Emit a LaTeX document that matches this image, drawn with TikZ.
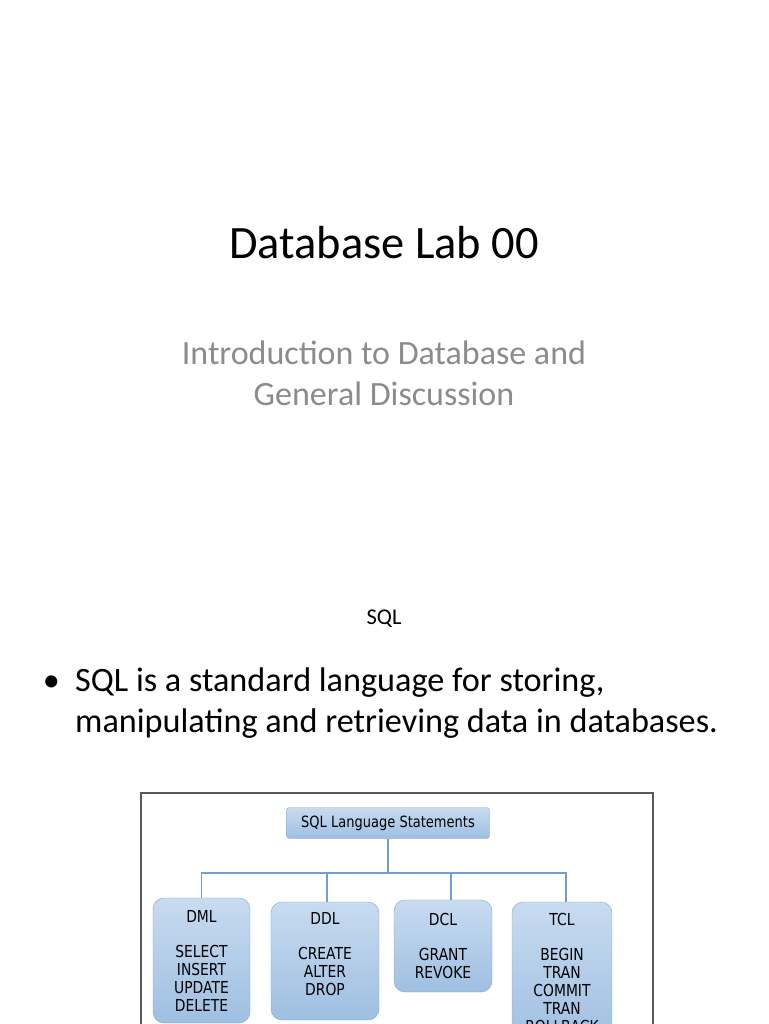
\documentclass[tikz,border=0pt]{standalone}
\usepackage{fontspec}
\setmainfont{Carlito}
\newfontfamily\boxfont[FakeStretch=0.84]{DejaVu Sans}

\definecolor{subgray}{HTML}{8C8C8C}
\definecolor{boxtop}{HTML}{C8DBF0}
\definecolor{boxbottom}{HTML}{9FBFE1}
\definecolor{boxline}{HTML}{82A6CE}
\definecolor{linkblue}{HTML}{759FCB}
\definecolor{framegray}{HTML}{5A5A5A}

\tikzstyle{slidetitle}=[font=\fontsize{46.4}{54}\selectfont,
                                    text=black]
\tikzstyle{subtitle}=[font=\fontsize{34}{41}\selectfont,
                                    text=subgray,
                                    align=center]
\tikzstyle{bodytext}=[font=\fontsize{34.2}{41}\selectfont,
                                    anchor=base west,
                                    inner sep=0pt]
\tikzstyle{root}=[rectangle,
                                    rounded corners=3pt,
                                    draw=boxline,
                                    top color=boxtop,
                                    bottom color=boxbottom,
                                    minimum width=203pt,
                                    minimum height=31pt,
                                    font=\boxfont\fontsize{15.5}{18}\selectfont]
\tikzstyle{category}=[rectangle,
                                    rounded corners=11pt,
                                    draw=boxline,
                                    top color=boxtop,
                                    bottom color=boxbottom,
                                    align=center,
                                    inner sep=0pt,
                                    font=\boxfont\fontsize{16.5}{18}\selectfont]
\tikzstyle{link}=[draw=linkblue,
                                    line width=1.6pt]

\begin{document}
\begin{tikzpicture}[x=1pt,y=-1pt]
  \useasboundingbox[fill=white] (0,0) rectangle (768,1024);

  % Title slide
  \node (title) at (384,243) [slidetitle] {Database Lab 00};
  \node (subtitle) at (384,373) [subtitle] {Introduction to Database and\\General Discussion};

  % Second slide: heading and the bullet point
  \node (heading) at (384,619) [font=\fontsize{22.5}{24}\selectfont] {SQL};
  \node (line1) at (75,691) [bodytext] {SQL is a standard language for storing,};
  \node (line2) [bodytext] at ([yshift=-41pt]line1.base west) {manipulating and retrieving data in databases.};
  \node (dot) [bodytext, anchor=base east] at ([xshift=-15pt]line1.base west) {\textbullet};

  % The picture of the statements, in its frame
  \draw[framegray, line width=1.4pt] (141,793) rectangle (653,1040);

  \node (sqlroot) at (388,823) [root] {SQL Language Statements};

  \node (dml) at (201.5,960.5) [category, minimum width=97pt, minimum height=125pt]
        {DML\\[17pt]SELECT\\INSERT\\UPDATE\\DELETE};
  \node (ddl) at (325,961) [category, minimum width=108pt, minimum height=118pt]
        {DDL\\[17pt]CREATE\\ALTER\\DROP\\[-4pt]\mbox{}};
  \node (dcl) at (443,946) [category, minimum width=98pt, minimum height=92pt]
        {DCL\\[17pt]GRANT\\REVOKE};
  \node (tcl) at (562,973) [category, minimum width=100pt, minimum height=142pt]
        {TCL\\[17pt]BEGIN\\TRAN\\COMMIT\\TRAN\\ROLLBACK};

  % The tree lines
  \coordinate (bus) at (388,873);
  \draw[link] (sqlroot.south) -- (sqlroot.south |- bus);
  \draw[link] (dml.north) |- (bus) -| ([xshift=4pt]tcl.north);
  \draw[link] ([xshift=2pt]ddl.north) -- ([xshift=2pt]ddl.north |- bus);
  \draw[link] ([xshift=8pt]dcl.north) -- ([xshift=8pt]dcl.north |- bus);

\end{tikzpicture}
\end{document}
